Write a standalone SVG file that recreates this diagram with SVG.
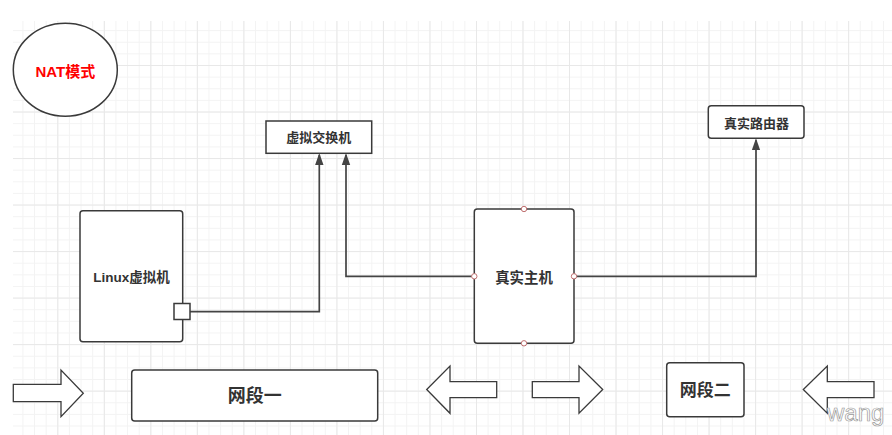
<svg xmlns="http://www.w3.org/2000/svg" width="892" height="435" viewBox="0 0 892 435">
<style>
.box{fill:#fff;stroke:#3a3a3a;stroke-width:1.5}
.lbl{font-family:"Liberation Sans","Noto Sans CJK SC",sans-serif;font-weight:bold;fill:#333;text-anchor:middle;dominant-baseline:central}
.conn{fill:none;stroke:#444;stroke-width:1.7}
.blk{fill:#fff;stroke:#3a3a3a;stroke-width:1.3}
.pt{fill:#fff;stroke:#c07070;stroke-width:1}
</style>
<defs>
<pattern id="gmin" patternUnits="userSpaceOnUse" x="57.3" y="65" width="11.63" height="11.63">
<path d="M0.5 0V11.63M0 0.5H11.63" stroke="#f3f3f3" stroke-width="1" fill="none"/>
</pattern>
<pattern id="gmaj" patternUnits="userSpaceOnUse" x="57.3" y="65" width="46.52" height="46.52">
<path d="M0.5 0V46.52M0 0.5H46.52" stroke="#e8e8e8" stroke-width="1" fill="none"/>
</pattern>
<marker id="ah" markerUnits="userSpaceOnUse" markerWidth="12" markerHeight="10" viewBox="0 0 12 10" refX="10" refY="5" orient="auto">
<path d="M0,0.8 L12,5 L0,9.2 Z" fill="#444"/>
</marker>
</defs>
<rect width="892" height="435" fill="#fff"/>
<g id="grid">
<rect x="13" y="21" width="879" height="414" fill="url(#gmin)"/>
<rect x="13" y="21" width="879" height="414" fill="url(#gmaj)"/>
</g>
<g id="connectors">
<path class="conn" d="M190 311.7H319.3V155" marker-end="url(#ah)"/>
<path class="conn" d="M474.3 276.3H346V155" marker-end="url(#ah)"/>
<path class="conn" d="M574 276.3H756V140.3" marker-end="url(#ah)"/>
</g>
<g id="nat">
<ellipse cx="65.3" cy="69.8" rx="52" ry="46.5" fill="#fff" stroke="#3a3a3a" stroke-width="1.5"/>
<text class="lbl" x="65.3" y="71" font-size="15" style="fill:#ff0000">NAT模式</text>
</g>
<g id="vswitch">
<rect class="box" x="266" y="121" width="105.7" height="32.3"/>
<text class="lbl" x="318.8" y="137.5" font-size="13">虚拟交换机</text>
</g>
<g id="router">
<rect class="box" x="708.3" y="105.7" width="95.7" height="32.6" rx="3"/>
<text class="lbl" x="756.5" y="123" font-size="13">真实路由器</text>
</g>
<g id="linuxvm">
<rect class="box" x="80" y="210.7" width="102.7" height="131" rx="3"/>
<text class="lbl" x="131.5" y="277.5" font-size="13.5">Linux虚拟机</text>
<rect class="box" x="174" y="303.5" width="16" height="16"/>
</g>
<g id="host">
<rect class="box" x="474.3" y="209" width="99.7" height="134.3" rx="3"/>
<text class="lbl" x="524" y="277.5" font-size="14.4">真实主机</text>
<circle class="pt" cx="524" cy="209" r="2.7"/>
<circle class="pt" cx="524" cy="343.3" r="2.7"/>
<circle class="pt" cx="474.3" cy="276.3" r="2.7"/>
<circle class="pt" cx="574" cy="276.3" r="2.7"/>
</g>
<g id="seg1">
<rect class="box" x="131.7" y="370" width="246" height="51" rx="3"/>
<text class="lbl" x="254.7" y="396" font-size="18">网段一</text>
</g>
<g id="seg2">
<rect class="box" x="666.7" y="362.7" width="77.3" height="54" rx="3"/>
<text class="lbl" x="705.3" y="390" font-size="17">网段二</text>
</g>
<g id="arrow1">
<path class="blk" d="M13.3 384.3H61V370L83.3 393.3L61 416.7V401.7H13.3Z"/>
</g>
<g id="arrow2">
<path class="blk" d="M496.7 381.7H450V366L426.7 389.5L450 413.3V397.7H496.7Z"/>
</g>
<g id="arrow3">
<path class="blk" d="M532.3 381.7H579V366L602.7 389.5L579 413.3V397.7H532.3Z"/>
</g>
<g id="arrow4">
<path class="blk" d="M874 381.7H827.3V366L803.3 389.5L827.3 413.3V397.7H874Z"/>
</g>
<text x="827" y="420.5" font-family="Liberation Sans, sans-serif" font-size="24" fill="#fff" stroke="#9a9a9a" stroke-width="0.7">wang</text>
</svg>
